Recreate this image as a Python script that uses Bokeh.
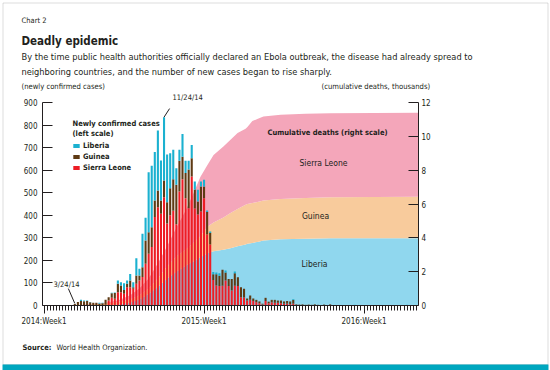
from bokeh.plotting import figure
from bokeh.models import (Range1d, LinearAxis, FixedTicker, Label, Legend, LegendItem,
                          BoxAnnotation, Arrow, ColumnDataSource)
from bokeh.embed import file_html
from bokeh.resources import INLINE

FONT = "'DejaVu Sans Condensed', 'Roboto Condensed', 'Open Sans Condensed', Roboto"
INK = "#231F20"

# ---------------- data ----------------
# weekly newly confirmed cases, week index counted from 2014:Week1 = 0
weeks = list(range(10, 96)) + [101, 118]
liberia = [0, 0, 5, 3, 2, 1, 0, 0, 4, 2,
           0, 0, 2, 3, 15, 14, 30, 15, 29, 22,
           76, 30, 148, 101, 266, 273, 215, 266, 178, 281,
           212, 155, 130, 73, 48, 100, 55, 39, 59, 36,
           52, 22, 29, 7, 7, 11, 8, 11, 0, 9,
           0, 0, 8, 0, 0, 0, 0, 0, 0, 0,
           0, 0, 0, 0, 0, 0, 0, 0, 0, 0,
           0, 3, 0, 0, 0, 0, 0, 0, 0, 0,
           0, 0, 0, 0, 0, 0] + [3, 3]
guinea = [7, 15, 20, 19, 20, 14, 12, 12, 8, 10,
          22, 15, 20, 25, 37, 30, 17, 15, 30, 7,
          37, 22, 44, 103, 96, 88, 73, 74, 58, 74,
          95, 120, 140, 175, 137, 100, 111, 172, 81, 84,
          58, 111, 52, 99, 51, 25, 49, 45, 70, 35,
          32, 52, 55, 38, 44, 39, 9, 19, 11, 10,
          8, 4, 14, 7, 11, 13, 10, 12, 10, 12,
          12, 17, 3, 2, 3, 2, 3, 2, 3, 2,
          2, 3, 2, 4, 1, 1] + [0, 0]
sierra_leone = [0, 0, 0, 0, 0, 0, 0, 0, 0, 0,
                3, 22, 34, 30, 59, 59, 52, 81, 81, 74,
                96, 111, 126, 185, 229, 259, 392, 436, 407, 480,
                363, 400, 420, 360, 505, 560, 476, 431, 572, 430,
                403, 417, 476, 315, 270, 113, 89, 87, 88, 111,
                86, 66, 88, 87, 37, 35, 22, 25, 20, 15,
                10, 4, 20, 10, 14, 12, 12, 10, 8, 8,
                6, 8, 2, 2, 2, 1, 1, 1, 2, 1,
                0, 1, 0, 1, 0, 0] + [0, 0]

# cumulative deaths, thousands
death_weeks = [11, 16, 20, 24, 28, 31, 34, 37, 40, 43, 46, 48.5, 50.8, 53.1, 55.1, 58.3,
               60.6, 62.9, 65.5, 66.1, 67.7, 69.7, 71.3, 76.9, 85, 93.1, 121.7]
deaths_liberia = [0.0, 0.01, 0.02, 0.06, 0.17, 0.35, 0.7, 1.1, 1.6, 2.0, 2.35, 2.6, 2.85, 3.09,
                  3.2, 3.3, 3.39, 3.5, 3.6, 3.65, 3.7, 3.77, 3.84, 3.92, 3.95, 3.97, 3.98]
deaths_guinea = [0.02, 0.07, 0.11, 0.14, 0.18, 0.25, 0.3, 0.5, 0.7, 0.9, 0.95, 1.1, 1.25, 1.56,
                 1.7, 1.9, 2.08, 2.2, 2.35, 2.35, 2.36, 2.36, 2.36, 2.38, 2.41, 2.43, 2.45]
deaths_sierra = [0.01, 0.02, 0.03, 0.1, 0.25, 0.4, 0.6, 0.9, 1.2, 1.7, 2.3, 2.9, 3.5, 3.65,
                 4.0, 4.2, 4.33, 4.5, 4.5, 4.55, 4.84, 4.92, 4.97, 4.97, 4.97, 4.97, 4.97]

year_ticks = [0, 52, 104]
year_labels = ["2014:Week1", "2015:Week1", "2016:Week1"]
left_ticks = list(range(0, 1000, 100))
right_ticks = list(range(0, 14, 2))

C_LIB, C_GUI, C_SL = "#1BB1D0", "#5E3A14", "#ED1C24"
A_LIB, A_GUI, A_SL = "#90D7EE", "#F8CB9C", "#F4A6BA"

# ---------------- layout (pixels) ----------------
W, H = 550, 370
AX_L, AX_R, AX_T, AX_B = 42, 418, 102, 305     # axes box in page pixels
X0, X1 = -0.5, 121.7                              # week span of axes box
Y1L, Y1R = 900, 12                                # left / right scale tops
pxw = (AX_R - AX_L) / (X1 - X0)
pyl = (AX_B - AX_T) / Y1L
pyr = (AX_B - AX_T) / Y1R

p = figure(width=W, height=H,
           x_range=Range1d(X0 - AX_L / pxw, X1 + (W - AX_R) / pxw),
           y_range=Range1d(-(H - AX_B) / pyl, AX_B / pyl),
           x_axis_type=None, y_axis_type=None, output_backend="svg", toolbar_location=None,
           min_border=0, min_border_left=0, min_border_right=0, min_border_top=0,
           min_border_bottom=0)
p.outline_line_color = None
p.background_fill_color = "white"
p.border_fill_color = "white"
p.extra_y_ranges = {"deaths": Range1d(-(H - AX_B) / pyr, AX_B / pyr)}

asrc = ColumnDataSource(dict(w=death_weeks, lib=deaths_liberia, gui=deaths_guinea, sl=deaths_sierra))
p.varea_stack(["lib", "gui", "sl"], x="w", color=[A_LIB, A_GUI, A_SL], source=asrc,
              y_range_name="deaths")

bsrc = ColumnDataSource(dict(w=weeks, sl=sierra_leone, gui=guinea, lib=liberia))
r_sl, r_gui, r_lib = p.vbar_stack(["sl", "gui", "lib"], x="w", width=0.68,
                                  color=[C_SL, C_GUI, C_LIB], source=bsrc, line_color=None)

def style_axis(ax, size="8px"):
    ax.axis_line_color = INK
    ax.major_tick_line_color = INK
    ax.minor_tick_line_color = INK
    ax.major_label_text_font = FONT
    ax.major_label_text_font_size = size
    ax.major_label_text_color = INK

yl = LinearAxis(ticker=FixedTicker(ticks=left_ticks), fixed_location=X0, bounds=(0, Y1L))
style_axis(yl)
yl.major_tick_in = 10
yl.major_tick_out = 0
yl.major_label_standoff = 5
p.add_layout(yl, "left")

yr = LinearAxis(ticker=FixedTicker(ticks=right_ticks), y_range_name="deaths",
                fixed_location=X1, bounds=(0, Y1R))
style_axis(yr)
yr.major_tick_in = 10
yr.major_tick_out = 0
yr.major_label_standoff = 3
p.add_layout(yr, "right")

xb = LinearAxis(ticker=FixedTicker(ticks=year_ticks, minor_ticks=list(range(0, 122))),
                fixed_location=0, bounds=(X0, X1))
style_axis(xb)
xb.major_tick_in = 0
xb.major_tick_out = 8
xb.minor_tick_in = 0
xb.minor_tick_out = 5
xb.major_label_standoff = 3
xb.major_label_overrides = {t: s for t, s in zip(year_ticks, year_labels)}
p.add_layout(xb, "below")

# legend
legend = Legend(items=[LegendItem(label="Liberia", renderers=[r_lib]),
                       LegendItem(label="Guinea", renderers=[r_gui]),
                       LegendItem(label="Sierra Leone", renderers=[r_sl])],
                location=(72, H - 173), glyph_width=8, glyph_height=5, label_standoff=3,
                spacing=0, padding=0, margin=0, label_height=11,
                label_text_font=FONT, label_text_font_size="7.5px", label_text_font_style="bold",
                label_text_color=INK, border_line_color=None, background_fill_alpha=0)
p.add_layout(legend)

def txt(s, rx, ry, size, bold=False, align="left", color=INK):
    p.add_layout(Label(x=rx, y=H - ry, x_units="screen", y_units="screen", text=s,
                       text_font=FONT, text_font_size=f"{size}px",
                       text_font_style="bold" if bold else "normal",
                       text_align=align, text_baseline="middle", text_color=color))

txt("Chart 2", 21, 20, 7.5)
txt("Deadly epidemic", 21, 40, 11.5, bold=True)
txt("By the time public health authorities officially declared an Ebola outbreak, the disease had already spread to", 21, 56, 9.2)
txt("neighboring countries, and the number of new cases began to rise sharply.", 21, 71, 9.2)
txt("(newly confirmed cases)", 21, 86, 7.6)
txt("(cumulative deaths, thousands)", 321, 86, 7.6)
txt("Newly confirmed cases", 72, 123, 7.5, bold=True)
txt("(left scale)", 72, 133, 7.5, bold=True)
txt("11/24/14", 172, 97, 7.5)
txt("3/24/14", 53, 284, 7.5)
txt("Cumulative deaths (right scale)", 327, 132, 7.5, bold=True, align="center")
txt("Sierra Leone", 323, 162, 8.5, align="center")
txt("Guinea", 315, 215, 8.5, align="center")
txt("Liberia", 314, 263, 8.5, align="center")
txt("Source:", 22, 347, 7.5, bold=True)
txt("World Health Organization.", 56, 347, 7.5)

# leader lines to annotated bars
totals = [a + b + c for a, b, c in zip(liberia, guinea, sierra_leone)]
ipk = totals.index(max(totals))
p.add_layout(Arrow(end=None, x_start=weeks[ipk] + 1.8, y_start=totals[ipk] + 38,
                   x_end=weeks[ipk], y_end=totals[ipk], line_color=INK, line_width=1))
p.add_layout(Arrow(end=None, x_start=weeks[0] - 2.1, y_start=totals[0] + 68,
                   x_end=weeks[0], y_end=totals[0] + 2, line_color=INK, line_width=1))

# frame and bottom band
p.add_layout(BoxAnnotation(left=2.5, right=547.5, top=H - 2.5, bottom=H - 364,
                           left_units="screen", right_units="screen", top_units="screen",
                           bottom_units="screen", fill_alpha=0, line_color="#8C8C8C", line_width=1))
p.add_layout(BoxAnnotation(left=2, right=548, top=H - 364, bottom=0,
                           left_units="screen", right_units="screen", top_units="screen",
                           bottom_units="screen", fill_color="#00A7BF", fill_alpha=1, line_color=None))

open("out.html", "w").write(file_html(p, INLINE))
